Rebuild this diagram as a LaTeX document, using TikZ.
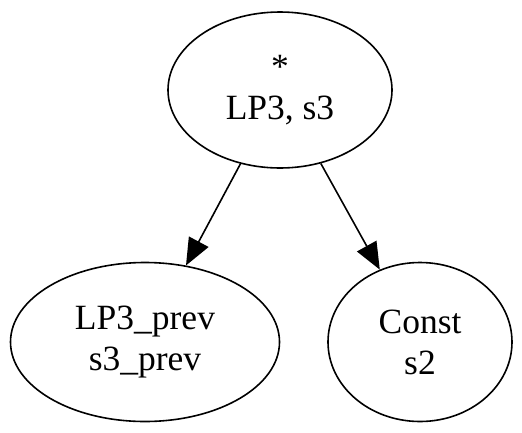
\documentclass[tikz,border=0pt]{standalone}
\usepackage{fontspec}
\setmainfont{Liberation Serif}
\usetikzlibrary{shapes.geometric,arrows.meta}
\begin{document}
\begin{tikzpicture}[x=1pt,y=-1pt,
  nd/.style={draw,ellipse,line width=1.6pt,inner sep=0pt,align=center,
    font=\fontsize{35.5}{41}\selectfont},
  edge/.style={line width=1.6pt,-{Triangle[length=27pt,width=22pt]}}]
\useasboundingbox (0,0) rectangle (522,432);
\node[nd,minimum width=224pt,minimum height=156pt] (top) at (280,90) {*\\LP3, s3};
\node[nd,minimum width=269pt,minimum height=159pt] (lp) at (145,342) {LP3\_prev\\s3\_prev};
\node[nd,minimum width=184pt,minimum height=159pt] (c) at (420,342) {Const\\s2};
\draw[edge] (top) -- (lp);
\draw[edge] (top) -- (c);
\end{tikzpicture}
\end{document}
